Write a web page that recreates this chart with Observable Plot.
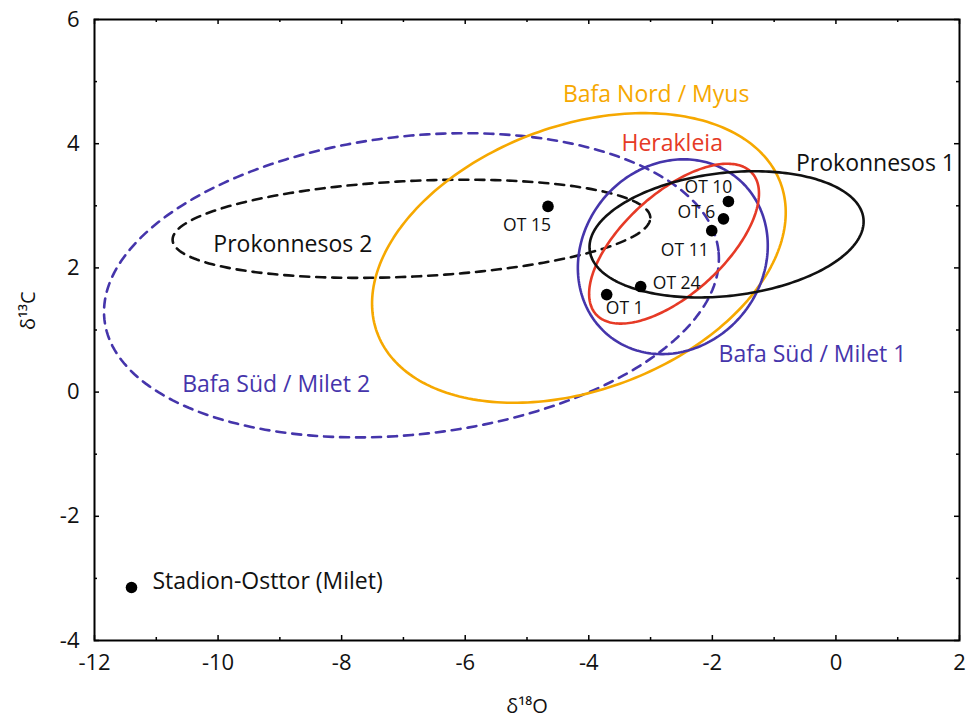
<!DOCTYPE html>
<html><head><meta charset="utf-8">
<script src="https://cdn.jsdelivr.net/npm/d3@7"></script>
<script src="https://cdn.jsdelivr.net/npm/@observablehq/plot@0.6"></script>
<style>body{margin:0;background:#fff;font-family:"Open Sans",sans-serif}</style>
</head><body><div id="chart"></div>
<script>
// ---- data: samples (Stadion-Osttor, Milet)
const sampleLabels = ["OT 15", "OT 10", "OT 6", "OT 11", "OT 24", "OT 1"];
const sampleD18O   = [-4.66, -1.74, -1.82, -2.01, -3.16, -3.71];
const sampleD13C   = [2.99, 3.07, 2.79, 2.60, 1.70, 1.57];

// ---- data: reference fields (confidence ellipses)
const groupNames = ["Bafa Süd / Milet 2", "Prokonnesos 2", "Bafa Nord / Myus", "Bafa Süd / Milet 1", "Herakleia", "Prokonnesos 1"];
const groupCenterX = [-6.87, -6.87, -4.16, -2.64, -2.62, -1.77];
const groupCenterY = [1.72, 2.63, 2.16, 2.18, 2.39, 2.54];
const groupSemiMajor = [5.0, 3.87, 3.48, 1.64, 1.70, 2.23];
const groupSemiMinor = [2.40, 0.77, 2.13, 1.46, 0.81, 0.99];
const groupTiltDeg = [6.4, 2.7, 20.2, 50, 42, 6.6];

// ---- tick values
const xMajorTicks = [-12, -10, -8, -6, -4, -2, 0, 2];
const xMinorTicks = [-11, -9, -7, -5, -3, -1, 1];
const yMajorTicks = [-4, -2, 0, 2, 4, 6];
const yMinorTicks = [-3, -1, 1, 3, 5];

const xTitle = "δ¹⁸O";
const yTitle = "δ¹³C";
const legendLabel = "Stadion-Osttor (Milet)";

// ---- styles / annotation placement (not data)
const groupStyle = {
  "Bafa Süd / Milet 2": {color: "#4535ab", dash: "9,7"},
  "Prokonnesos 2":      {color: "#111111", dash: "9,7"},
  "Bafa Nord / Myus":   {color: "#f6a800", dash: null},
  "Bafa Süd / Milet 1": {color: "#4535ab", dash: null},
  "Herakleia":          {color: "#e63a26", dash: null},
  "Prokonnesos 1":      {color: "#111111", dash: null}
};
const groupLabelAt = {
  "Bafa Süd / Milet 2": [-9.06, 0.12],
  "Prokonnesos 2":      [-8.79, 2.38],
  "Bafa Nord / Myus":   [-2.91, 4.79],
  "Bafa Süd / Milet 1": [-0.38, 0.61],
  "Herakleia":          [-2.65, 4.00],
  "Prokonnesos 1":      [0.64, 3.68]
};
const sampleLabelOffset = {
  "OT 15": [-21, 19], "OT 10": [-20, -14], "OT 6": [-27, -6],
  "OT 11": [-27, 20], "OT 24": [36, -3], "OT 1": [18, 14]
};

const samples = sampleLabels.map((label, i) => ({label, x: sampleD18O[i], y: sampleD13C[i]}));
const groups = groupNames.map((name, i) => ({
  name, cx: groupCenterX[i], cy: groupCenterY[i],
  a: groupSemiMajor[i], b: groupSemiMinor[i], tilt: groupTiltDeg[i]
}));
// outline of each ellipse from its centre, semi-axes and tilt
function outline(g) {
  const th = g.tilt * Math.PI / 180, n = 240;
  return d3.range(n).map(k => {
    const t = 2 * Math.PI * k / n;
    return {
      x: g.cx + g.a * Math.cos(t) * Math.cos(th) - g.b * Math.sin(t) * Math.sin(th),
      y: g.cy + g.a * Math.cos(t) * Math.sin(th) + g.b * Math.sin(t) * Math.cos(th)
    };
  });
}

const W = 966, H = 724, mL = 94, mR = 7, mT = 19, mB = 84;
const innerW = W - mL - mR, innerH = H - mT - mB;
const font = "Open Sans";
const fmt = d => String(d);

const marks = [];
for (const g of groups) {
  const s = groupStyle[g.name];
  marks.push(Plot.line(outline(g), {
    x: "x", y: "y", curve: "linear-closed",
    stroke: s.color, strokeWidth: 2.6, strokeDasharray: s.dash ?? undefined
  }));
}
for (const g of groups) {
  const s = groupStyle[g.name];
  const [lx, ly] = groupLabelAt[g.name];
  marks.push(Plot.text([g.name], {
    x: () => lx, y: () => ly, text: d => d, fill: s.color,
    fontSize: 23, fontFamily: font, textAnchor: "middle"
  }));
}
marks.push(
  Plot.dot(samples, {x: "x", y: "y", r: 5.8, fill: "#000", stroke: "none"}),
  ...samples.map(s => Plot.text([s], {
    x: "x", y: "y", text: "label", fontSize: 17.5, fontFamily: font, fill: "#111",
    dx: sampleLabelOffset[s.label][0], dy: sampleLabelOffset[s.label][1]
  })),
  // legend
  Plot.dot([legendLabel], {frameAnchor: "bottom-left", dx: 37, dy: -53, r: 5.8, fill: "#000", stroke: "none"}),
  Plot.text([legendLabel], {frameAnchor: "bottom-left", dx: 58, dy: -52, text: d => d,
    textAnchor: "start", fontSize: 23, fontFamily: font, fill: "#111"}),
  // frame and inward ticks on all sides
  Plot.frame({stroke: "#000", strokeWidth: 2}),
  Plot.ruleX(xMajorTicks, {x: d => d, insetTop: innerH - 5, stroke: "#000", strokeWidth: 1.5}),
  Plot.ruleX(xMajorTicks, {x: d => d, insetBottom: innerH - 5, stroke: "#000", strokeWidth: 1.5}),
  Plot.ruleX(xMinorTicks, {x: d => d, insetTop: innerH - 3, stroke: "#000", strokeWidth: 1.5}),
  Plot.ruleX(xMinorTicks, {x: d => d, insetBottom: innerH - 3, stroke: "#000", strokeWidth: 1.5}),
  Plot.ruleY(yMajorTicks, {y: d => d, insetRight: innerW - 5, stroke: "#000", strokeWidth: 1.5}),
  Plot.ruleY(yMajorTicks, {y: d => d, insetLeft: innerW - 5, stroke: "#000", strokeWidth: 1.5}),
  Plot.ruleY(yMinorTicks, {y: d => d, insetRight: innerW - 3, stroke: "#000", strokeWidth: 1.5}),
  Plot.ruleY(yMinorTicks, {y: d => d, insetLeft: innerW - 3, stroke: "#000", strokeWidth: 1.5}),
  // tick labels
  Plot.axisX(xMajorTicks, {anchor: "bottom", tickSize: 0, tickPadding: 14, tickFormat: fmt, fontSize: 22, fontFamily: font, label: null, color: "#111"}),
  Plot.axisY(yMajorTicks, {anchor: "left", tickSize: 0, tickPadding: 15, tickFormat: fmt, fontSize: 22, fontFamily: font, label: null, color: "#111"}),
  // axis titles
  Plot.text([xTitle], {frameAnchor: "bottom", dy: 72, text: d => d, fontSize: 20, fontFamily: font, fill: "#111"}),
  Plot.text([yTitle], {frameAnchor: "left", dx: -66, rotate: -90, text: d => d, fontSize: 20, fontFamily: font, fill: "#111"})
);

const chart = Plot.plot({
  width: W, height: H,
  marginLeft: mL, marginRight: mR, marginTop: mT, marginBottom: mB,
  x: {domain: [-12, 2]},
  y: {domain: [-4, 6]},
  style: {fontFamily: font, background: "#fff"},
  marks
});
document.getElementById("chart").appendChild(chart);
</script>
</body></html>
